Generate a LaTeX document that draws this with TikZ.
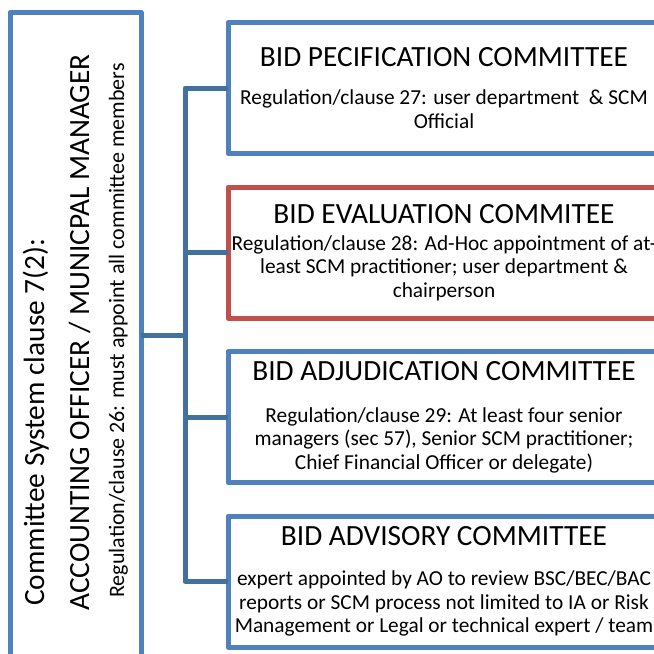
\documentclass[tikz,border=0pt]{standalone}
\usepackage{fontspec}
\setmainfont{Carlito}
\usetikzlibrary{positioning}

\definecolor{boxblue}{HTML}{4F81BD}
\definecolor{linkblue}{HTML}{41719C}
\definecolor{boxred}{HTML}{C0504D}

\newcommand{\titlefont}{\fontsize{22}{24}\selectfont}
\newcommand{\bodyfont}{\fontsize{16}{17.6}\selectfont}

\tikzset{
  committee/.style={draw=boxblue, line width=3.75pt, line join=round, outer sep=0pt,
    minimum width=324pt, minimum height=98.25pt, align=center, inner sep=0pt,
    font=\bodyfont},
  officer/.style={draw=boxblue, line width=3.75pt, line join=round, outer sep=0pt,
    minimum width=98.25pt, minimum height=525pt},
  sidetext/.style={rotate=90, anchor=base west, inner sep=0pt},
  link/.style={draw=linkblue, line width=3.75pt, line join=round}
}

\begin{document}
\begin{tikzpicture}[x=0.75pt,y=-0.75pt,node distance=25.125pt]
  \clip (0,0) rectangle (654,654);
  % Place nodes
  \node [officer, anchor=north west] (acct) at (10,12.5) {};
  \node [sidetext, font=\titlefont] (sys) at (44,606) {Committee System clause 7(2):};
  \node [sidetext, font=\titlefont] (ao) at (89,611) {ACCOUNTING OFFICER / MUNICPAL MANAGER};
  \node [sidetext, font=\fontsize{16.5}{18}\selectfont] (reg) at (124,598) {Regulation/clause 26: must appoint all committee members};

  \node [committee, anchor=north west] (spec) at (228,22.5)
    {{\titlefont BID PECIFICATION COMMITTEE}\\[10.9pt]
     Regulation/clause 27: user department\ \ \& SCM\\Official};
  \node [committee, draw=boxred, below=of spec] (evalc)
    {{\titlefont BID EVALUATION COMMITEE}\\[2.6pt]
     Regulation/clause 28: Ad-Hoc appointment of at-\\least SCM practitioner; user department \&\\chairperson};
  \node [committee, below=of evalc] (adjud)
    {{\titlefont BID ADJUDICATION COMMITTEE}\\[13.9pt]
     Regulation/clause 29: At least four senior\\managers (sec 57), Senior SCM practitioner;\\Chief Financial Officer or delegate)};
  \node [committee, below=of adjud] (advis)
    {{\titlefont BID ADVISORY COMMITTEE}\\[12.4pt]
     expert appointed by AO to review BSC/BEC/BAC\\reports or SCM process not limited to IA or Risk\\Management or Legal or technical expert / team};

  % Connectors
  \coordinate (hub) at (185,335);
  \draw [link] (acct.east |- hub) -- (hub);
  \draw [link] (spec.west) -| (hub) |- (advis.west);
  \foreach \n in {evalc,adjud}
    \draw [link] (hub |- \n.west) -- (\n.west);
\end{tikzpicture}
\end{document}
